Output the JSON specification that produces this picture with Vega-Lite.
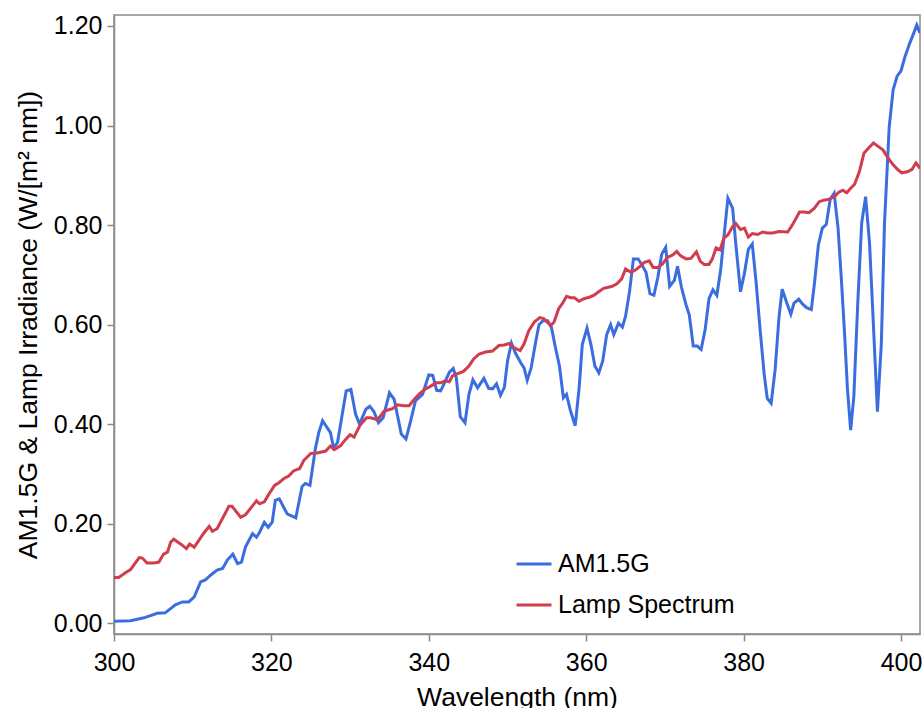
{
  "$schema": "https://vega.github.io/schema/vega-lite/v6.json",
  "autosize": {"type": "none"},
  "width": 806,
  "height": 619,
  "padding": {"left": 114, "top": 15, "right": 3, "bottom": 74},
  "background": "white",
  "config": {
    "font": "Liberation Sans",
    "view": {"stroke": "#8a8a8a", "strokeWidth": 1.5},
    "axis": {
      "grid": false,
      "domainColor": "#8a8a8a",
      "domainWidth": 1.5,
      "tickColor": "#8a8a8a",
      "tickWidth": 1.5,
      "tickSize": 7,
      "labelFont": "Liberation Sans",
      "labelFontSize": 25,
      "labelColor": "#000000",
      "titleFont": "Liberation Sans",
      "titleFontSize": 26.5,
      "titleFontWeight": "normal",
      "titleColor": "#000000"
    },
    "legend": {
      "labelFont": "Liberation Sans",
      "labelFontSize": 25,
      "labelColor": "#000000",
      "labelLimit": 400
    }
  },
  "data": {
    "values": [
      {"wl": 300.0, "series": "AM1.5G", "irr": 0.004},
      {"wl": 302.1, "series": "AM1.5G", "irr": 0.005},
      {"wl": 303.8, "series": "AM1.5G", "irr": 0.011},
      {"wl": 305.5, "series": "AM1.5G", "irr": 0.020},
      {"wl": 306.5, "series": "AM1.5G", "irr": 0.021},
      {"wl": 307.8, "series": "AM1.5G", "irr": 0.037},
      {"wl": 308.7, "series": "AM1.5G", "irr": 0.043},
      {"wl": 309.5, "series": "AM1.5G", "irr": 0.043},
      {"wl": 310.2, "series": "AM1.5G", "irr": 0.053},
      {"wl": 311.0, "series": "AM1.5G", "irr": 0.083},
      {"wl": 311.6, "series": "AM1.5G", "irr": 0.087},
      {"wl": 312.3, "series": "AM1.5G", "irr": 0.097},
      {"wl": 313.1, "series": "AM1.5G", "irr": 0.107},
      {"wl": 313.8, "series": "AM1.5G", "irr": 0.110},
      {"wl": 314.4, "series": "AM1.5G", "irr": 0.127},
      {"wl": 315.1, "series": "AM1.5G", "irr": 0.139},
      {"wl": 315.7, "series": "AM1.5G", "irr": 0.120},
      {"wl": 316.2, "series": "AM1.5G", "irr": 0.123},
      {"wl": 316.7, "series": "AM1.5G", "irr": 0.153},
      {"wl": 317.6, "series": "AM1.5G", "irr": 0.180},
      {"wl": 318.1, "series": "AM1.5G", "irr": 0.173},
      {"wl": 318.5, "series": "AM1.5G", "irr": 0.183},
      {"wl": 319.1, "series": "AM1.5G", "irr": 0.203},
      {"wl": 319.6, "series": "AM1.5G", "irr": 0.193},
      {"wl": 320.1, "series": "AM1.5G", "irr": 0.203},
      {"wl": 320.5, "series": "AM1.5G", "irr": 0.247},
      {"wl": 321.0, "series": "AM1.5G", "irr": 0.250},
      {"wl": 322.0, "series": "AM1.5G", "irr": 0.220},
      {"wl": 323.1, "series": "AM1.5G", "irr": 0.212},
      {"wl": 323.9, "series": "AM1.5G", "irr": 0.275},
      {"wl": 324.3, "series": "AM1.5G", "irr": 0.281},
      {"wl": 324.9, "series": "AM1.5G", "irr": 0.277},
      {"wl": 325.6, "series": "AM1.5G", "irr": 0.352},
      {"wl": 326.0, "series": "AM1.5G", "irr": 0.382},
      {"wl": 326.5, "series": "AM1.5G", "irr": 0.407},
      {"wl": 327.5, "series": "AM1.5G", "irr": 0.383},
      {"wl": 327.9, "series": "AM1.5G", "irr": 0.353},
      {"wl": 328.4, "series": "AM1.5G", "irr": 0.363},
      {"wl": 329.5, "series": "AM1.5G", "irr": 0.467},
      {"wl": 330.1, "series": "AM1.5G", "irr": 0.470},
      {"wl": 330.7, "series": "AM1.5G", "irr": 0.420},
      {"wl": 331.2, "series": "AM1.5G", "irr": 0.400},
      {"wl": 332.0, "series": "AM1.5G", "irr": 0.430},
      {"wl": 332.5, "series": "AM1.5G", "irr": 0.436},
      {"wl": 333.0, "series": "AM1.5G", "irr": 0.426},
      {"wl": 333.6, "series": "AM1.5G", "irr": 0.403},
      {"wl": 334.2, "series": "AM1.5G", "irr": 0.413},
      {"wl": 335.0, "series": "AM1.5G", "irr": 0.463},
      {"wl": 335.6, "series": "AM1.5G", "irr": 0.450},
      {"wl": 336.5, "series": "AM1.5G", "irr": 0.380},
      {"wl": 337.1, "series": "AM1.5G", "irr": 0.370},
      {"wl": 337.7, "series": "AM1.5G", "irr": 0.407},
      {"wl": 338.3, "series": "AM1.5G", "irr": 0.447},
      {"wl": 339.2, "series": "AM1.5G", "irr": 0.460},
      {"wl": 340.0, "series": "AM1.5G", "irr": 0.499},
      {"wl": 340.5, "series": "AM1.5G", "irr": 0.498},
      {"wl": 341.0, "series": "AM1.5G", "irr": 0.468},
      {"wl": 341.5, "series": "AM1.5G", "irr": 0.467},
      {"wl": 342.0, "series": "AM1.5G", "irr": 0.483},
      {"wl": 342.6, "series": "AM1.5G", "irr": 0.504},
      {"wl": 343.1, "series": "AM1.5G", "irr": 0.512},
      {"wl": 343.5, "series": "AM1.5G", "irr": 0.493},
      {"wl": 344.0, "series": "AM1.5G", "irr": 0.415},
      {"wl": 344.6, "series": "AM1.5G", "irr": 0.403},
      {"wl": 345.1, "series": "AM1.5G", "irr": 0.460},
      {"wl": 345.6, "series": "AM1.5G", "irr": 0.489},
      {"wl": 346.2, "series": "AM1.5G", "irr": 0.473},
      {"wl": 347.0, "series": "AM1.5G", "irr": 0.492},
      {"wl": 347.6, "series": "AM1.5G", "irr": 0.472},
      {"wl": 348.1, "series": "AM1.5G", "irr": 0.471},
      {"wl": 348.6, "series": "AM1.5G", "irr": 0.481},
      {"wl": 349.1, "series": "AM1.5G", "irr": 0.458},
      {"wl": 349.6, "series": "AM1.5G", "irr": 0.474},
      {"wl": 350.0, "series": "AM1.5G", "irr": 0.527},
      {"wl": 350.5, "series": "AM1.5G", "irr": 0.563},
      {"wl": 351.0, "series": "AM1.5G", "irr": 0.543},
      {"wl": 351.7, "series": "AM1.5G", "irr": 0.523},
      {"wl": 352.1, "series": "AM1.5G", "irr": 0.513},
      {"wl": 352.5, "series": "AM1.5G", "irr": 0.488},
      {"wl": 353.0, "series": "AM1.5G", "irr": 0.513},
      {"wl": 353.6, "series": "AM1.5G", "irr": 0.567},
      {"wl": 354.0, "series": "AM1.5G", "irr": 0.600},
      {"wl": 354.5, "series": "AM1.5G", "irr": 0.608},
      {"wl": 355.1, "series": "AM1.5G", "irr": 0.608},
      {"wl": 355.6, "series": "AM1.5G", "irr": 0.593},
      {"wl": 356.1, "series": "AM1.5G", "irr": 0.553},
      {"wl": 356.6, "series": "AM1.5G", "irr": 0.517},
      {"wl": 357.1, "series": "AM1.5G", "irr": 0.453},
      {"wl": 357.5, "series": "AM1.5G", "irr": 0.460},
      {"wl": 358.0, "series": "AM1.5G", "irr": 0.427},
      {"wl": 358.6, "series": "AM1.5G", "irr": 0.397},
      {"wl": 359.1, "series": "AM1.5G", "irr": 0.473},
      {"wl": 359.5, "series": "AM1.5G", "irr": 0.560},
      {"wl": 360.1, "series": "AM1.5G", "irr": 0.593},
      {"wl": 360.6, "series": "AM1.5G", "irr": 0.560},
      {"wl": 361.1, "series": "AM1.5G", "irr": 0.517},
      {"wl": 361.6, "series": "AM1.5G", "irr": 0.503},
      {"wl": 362.1, "series": "AM1.5G", "irr": 0.527},
      {"wl": 362.6, "series": "AM1.5G", "irr": 0.580},
      {"wl": 363.1, "series": "AM1.5G", "irr": 0.600},
      {"wl": 363.5, "series": "AM1.5G", "irr": 0.580},
      {"wl": 364.1, "series": "AM1.5G", "irr": 0.603},
      {"wl": 364.6, "series": "AM1.5G", "irr": 0.595},
      {"wl": 365.0, "series": "AM1.5G", "irr": 0.617},
      {"wl": 365.5, "series": "AM1.5G", "irr": 0.666},
      {"wl": 366.0, "series": "AM1.5G", "irr": 0.732},
      {"wl": 366.6, "series": "AM1.5G", "irr": 0.732},
      {"wl": 367.0, "series": "AM1.5G", "irr": 0.722},
      {"wl": 367.6, "series": "AM1.5G", "irr": 0.705},
      {"wl": 368.1, "series": "AM1.5G", "irr": 0.662},
      {"wl": 368.6, "series": "AM1.5G", "irr": 0.659},
      {"wl": 369.1, "series": "AM1.5G", "irr": 0.695},
      {"wl": 369.6, "series": "AM1.5G", "irr": 0.742},
      {"wl": 370.1, "series": "AM1.5G", "irr": 0.755},
      {"wl": 370.6, "series": "AM1.5G", "irr": 0.677},
      {"wl": 371.2, "series": "AM1.5G", "irr": 0.689},
      {"wl": 371.6, "series": "AM1.5G", "irr": 0.717},
      {"wl": 372.1, "series": "AM1.5G", "irr": 0.675},
      {"wl": 372.7, "series": "AM1.5G", "irr": 0.639},
      {"wl": 373.1, "series": "AM1.5G", "irr": 0.619},
      {"wl": 373.6, "series": "AM1.5G", "irr": 0.557},
      {"wl": 374.1, "series": "AM1.5G", "irr": 0.557},
      {"wl": 374.6, "series": "AM1.5G", "irr": 0.550},
      {"wl": 375.1, "series": "AM1.5G", "irr": 0.589},
      {"wl": 375.6, "series": "AM1.5G", "irr": 0.652},
      {"wl": 376.1, "series": "AM1.5G", "irr": 0.670},
      {"wl": 376.6, "series": "AM1.5G", "irr": 0.659},
      {"wl": 377.1, "series": "AM1.5G", "irr": 0.712},
      {"wl": 377.5, "series": "AM1.5G", "irr": 0.776},
      {"wl": 378.0, "series": "AM1.5G", "irr": 0.854},
      {"wl": 378.6, "series": "AM1.5G", "irr": 0.834},
      {"wl": 379.0, "series": "AM1.5G", "irr": 0.763},
      {"wl": 379.6, "series": "AM1.5G", "irr": 0.666},
      {"wl": 380.1, "series": "AM1.5G", "irr": 0.703},
      {"wl": 380.6, "series": "AM1.5G", "irr": 0.751},
      {"wl": 381.1, "series": "AM1.5G", "irr": 0.762},
      {"wl": 381.6, "series": "AM1.5G", "irr": 0.683},
      {"wl": 382.1, "series": "AM1.5G", "irr": 0.589},
      {"wl": 382.6, "series": "AM1.5G", "irr": 0.502},
      {"wl": 383.0, "series": "AM1.5G", "irr": 0.452},
      {"wl": 383.5, "series": "AM1.5G", "irr": 0.442},
      {"wl": 384.0, "series": "AM1.5G", "irr": 0.509},
      {"wl": 384.5, "series": "AM1.5G", "irr": 0.616},
      {"wl": 384.9, "series": "AM1.5G", "irr": 0.671},
      {"wl": 385.5, "series": "AM1.5G", "irr": 0.643},
      {"wl": 386.0, "series": "AM1.5G", "irr": 0.621},
      {"wl": 386.4, "series": "AM1.5G", "irr": 0.643},
      {"wl": 387.0, "series": "AM1.5G", "irr": 0.651},
      {"wl": 387.5, "series": "AM1.5G", "irr": 0.641},
      {"wl": 388.0, "series": "AM1.5G", "irr": 0.634},
      {"wl": 388.6, "series": "AM1.5G", "irr": 0.630},
      {"wl": 389.0, "series": "AM1.5G", "irr": 0.683},
      {"wl": 389.5, "series": "AM1.5G", "irr": 0.760},
      {"wl": 390.0, "series": "AM1.5G", "irr": 0.794},
      {"wl": 390.5, "series": "AM1.5G", "irr": 0.801},
      {"wl": 391.0, "series": "AM1.5G", "irr": 0.852},
      {"wl": 391.5, "series": "AM1.5G", "irr": 0.864},
      {"wl": 392.0, "series": "AM1.5G", "irr": 0.794},
      {"wl": 392.4, "series": "AM1.5G", "irr": 0.696},
      {"wl": 392.8, "series": "AM1.5G", "irr": 0.589},
      {"wl": 393.2, "series": "AM1.5G", "irr": 0.469},
      {"wl": 393.6, "series": "AM1.5G", "irr": 0.388},
      {"wl": 394.0, "series": "AM1.5G", "irr": 0.455},
      {"wl": 394.5, "series": "AM1.5G", "irr": 0.643},
      {"wl": 395.0, "series": "AM1.5G", "irr": 0.804},
      {"wl": 395.5, "series": "AM1.5G", "irr": 0.857},
      {"wl": 396.0, "series": "AM1.5G", "irr": 0.763},
      {"wl": 396.5, "series": "AM1.5G", "irr": 0.596},
      {"wl": 397.0, "series": "AM1.5G", "irr": 0.425},
      {"wl": 397.5, "series": "AM1.5G", "irr": 0.563},
      {"wl": 397.9, "series": "AM1.5G", "irr": 0.804},
      {"wl": 398.5, "series": "AM1.5G", "irr": 0.998},
      {"wl": 399.0, "series": "AM1.5G", "irr": 1.072},
      {"wl": 399.5, "series": "AM1.5G", "irr": 1.099},
      {"wl": 400.0, "series": "AM1.5G", "irr": 1.110},
      {"wl": 400.5, "series": "AM1.5G", "irr": 1.138},
      {"wl": 401.1, "series": "AM1.5G", "irr": 1.165},
      {"wl": 401.6, "series": "AM1.5G", "irr": 1.185},
      {"wl": 402.0, "series": "AM1.5G", "irr": 1.202},
      {"wl": 402.4, "series": "AM1.5G", "irr": 1.186},
      {"wl": 300.0, "series": "Lamp Spectrum", "irr": 0.092},
      {"wl": 300.6, "series": "Lamp Spectrum", "irr": 0.092},
      {"wl": 301.5, "series": "Lamp Spectrum", "irr": 0.102},
      {"wl": 302.1, "series": "Lamp Spectrum", "irr": 0.108},
      {"wl": 303.2, "series": "Lamp Spectrum", "irr": 0.132},
      {"wl": 303.6, "series": "Lamp Spectrum", "irr": 0.131},
      {"wl": 304.2, "series": "Lamp Spectrum", "irr": 0.121},
      {"wl": 305.1, "series": "Lamp Spectrum", "irr": 0.121},
      {"wl": 305.7, "series": "Lamp Spectrum", "irr": 0.123},
      {"wl": 306.3, "series": "Lamp Spectrum", "irr": 0.139},
      {"wl": 306.8, "series": "Lamp Spectrum", "irr": 0.143},
      {"wl": 307.2, "series": "Lamp Spectrum", "irr": 0.163},
      {"wl": 307.6, "series": "Lamp Spectrum", "irr": 0.169},
      {"wl": 308.5, "series": "Lamp Spectrum", "irr": 0.159},
      {"wl": 309.2, "series": "Lamp Spectrum", "irr": 0.150},
      {"wl": 309.6, "series": "Lamp Spectrum", "irr": 0.159},
      {"wl": 310.2, "series": "Lamp Spectrum", "irr": 0.153},
      {"wl": 310.8, "series": "Lamp Spectrum", "irr": 0.167},
      {"wl": 311.4, "series": "Lamp Spectrum", "irr": 0.181},
      {"wl": 312.1, "series": "Lamp Spectrum", "irr": 0.195},
      {"wl": 312.5, "series": "Lamp Spectrum", "irr": 0.185},
      {"wl": 313.1, "series": "Lamp Spectrum", "irr": 0.190},
      {"wl": 314.0, "series": "Lamp Spectrum", "irr": 0.217},
      {"wl": 314.6, "series": "Lamp Spectrum", "irr": 0.235},
      {"wl": 315.0, "series": "Lamp Spectrum", "irr": 0.235},
      {"wl": 316.1, "series": "Lamp Spectrum", "irr": 0.213},
      {"wl": 316.7, "series": "Lamp Spectrum", "irr": 0.218},
      {"wl": 317.6, "series": "Lamp Spectrum", "irr": 0.236},
      {"wl": 318.1, "series": "Lamp Spectrum", "irr": 0.246},
      {"wl": 318.5, "series": "Lamp Spectrum", "irr": 0.240},
      {"wl": 319.1, "series": "Lamp Spectrum", "irr": 0.244},
      {"wl": 319.7, "series": "Lamp Spectrum", "irr": 0.260},
      {"wl": 320.4, "series": "Lamp Spectrum", "irr": 0.277},
      {"wl": 321.0, "series": "Lamp Spectrum", "irr": 0.283},
      {"wl": 321.6, "series": "Lamp Spectrum", "irr": 0.291},
      {"wl": 322.2, "series": "Lamp Spectrum", "irr": 0.296},
      {"wl": 322.8, "series": "Lamp Spectrum", "irr": 0.306},
      {"wl": 323.6, "series": "Lamp Spectrum", "irr": 0.311},
      {"wl": 324.1, "series": "Lamp Spectrum", "irr": 0.327},
      {"wl": 325.0, "series": "Lamp Spectrum", "irr": 0.341},
      {"wl": 325.8, "series": "Lamp Spectrum", "irr": 0.342},
      {"wl": 326.9, "series": "Lamp Spectrum", "irr": 0.346},
      {"wl": 327.5, "series": "Lamp Spectrum", "irr": 0.356},
      {"wl": 328.0, "series": "Lamp Spectrum", "irr": 0.349},
      {"wl": 328.8, "series": "Lamp Spectrum", "irr": 0.357},
      {"wl": 329.4, "series": "Lamp Spectrum", "irr": 0.369},
      {"wl": 330.0, "series": "Lamp Spectrum", "irr": 0.379},
      {"wl": 330.5, "series": "Lamp Spectrum", "irr": 0.374},
      {"wl": 331.3, "series": "Lamp Spectrum", "irr": 0.399},
      {"wl": 332.1, "series": "Lamp Spectrum", "irr": 0.413},
      {"wl": 332.6, "series": "Lamp Spectrum", "irr": 0.413},
      {"wl": 333.5, "series": "Lamp Spectrum", "irr": 0.409},
      {"wl": 334.3, "series": "Lamp Spectrum", "irr": 0.426},
      {"wl": 334.9, "series": "Lamp Spectrum", "irr": 0.429},
      {"wl": 335.4, "series": "Lamp Spectrum", "irr": 0.431},
      {"wl": 336.0, "series": "Lamp Spectrum", "irr": 0.439},
      {"wl": 336.8, "series": "Lamp Spectrum", "irr": 0.437},
      {"wl": 337.5, "series": "Lamp Spectrum", "irr": 0.437},
      {"wl": 338.1, "series": "Lamp Spectrum", "irr": 0.449},
      {"wl": 338.8, "series": "Lamp Spectrum", "irr": 0.461},
      {"wl": 339.6, "series": "Lamp Spectrum", "irr": 0.471},
      {"wl": 340.2, "series": "Lamp Spectrum", "irr": 0.476},
      {"wl": 340.9, "series": "Lamp Spectrum", "irr": 0.483},
      {"wl": 341.5, "series": "Lamp Spectrum", "irr": 0.483},
      {"wl": 342.1, "series": "Lamp Spectrum", "irr": 0.487},
      {"wl": 342.6, "series": "Lamp Spectrum", "irr": 0.485},
      {"wl": 343.0, "series": "Lamp Spectrum", "irr": 0.497},
      {"wl": 343.6, "series": "Lamp Spectrum", "irr": 0.501},
      {"wl": 344.4, "series": "Lamp Spectrum", "irr": 0.506},
      {"wl": 345.1, "series": "Lamp Spectrum", "irr": 0.517},
      {"wl": 345.7, "series": "Lamp Spectrum", "irr": 0.531},
      {"wl": 346.4, "series": "Lamp Spectrum", "irr": 0.541},
      {"wl": 347.2, "series": "Lamp Spectrum", "irr": 0.545},
      {"wl": 348.1, "series": "Lamp Spectrum", "irr": 0.547},
      {"wl": 348.9, "series": "Lamp Spectrum", "irr": 0.558},
      {"wl": 349.6, "series": "Lamp Spectrum", "irr": 0.559},
      {"wl": 350.2, "series": "Lamp Spectrum", "irr": 0.562},
      {"wl": 350.8, "series": "Lamp Spectrum", "irr": 0.554},
      {"wl": 351.6, "series": "Lamp Spectrum", "irr": 0.548},
      {"wl": 352.1, "series": "Lamp Spectrum", "irr": 0.561},
      {"wl": 352.7, "series": "Lamp Spectrum", "irr": 0.588},
      {"wl": 353.4, "series": "Lamp Spectrum", "irr": 0.605},
      {"wl": 354.1, "series": "Lamp Spectrum", "irr": 0.614},
      {"wl": 354.6, "series": "Lamp Spectrum", "irr": 0.612},
      {"wl": 355.5, "series": "Lamp Spectrum", "irr": 0.598},
      {"wl": 355.9, "series": "Lamp Spectrum", "irr": 0.605},
      {"wl": 356.5, "series": "Lamp Spectrum", "irr": 0.632},
      {"wl": 357.0, "series": "Lamp Spectrum", "irr": 0.643},
      {"wl": 357.5, "series": "Lamp Spectrum", "irr": 0.657},
      {"wl": 358.0, "series": "Lamp Spectrum", "irr": 0.654},
      {"wl": 358.5, "series": "Lamp Spectrum", "irr": 0.654},
      {"wl": 359.1, "series": "Lamp Spectrum", "irr": 0.647},
      {"wl": 359.7, "series": "Lamp Spectrum", "irr": 0.652},
      {"wl": 360.4, "series": "Lamp Spectrum", "irr": 0.655},
      {"wl": 361.0, "series": "Lamp Spectrum", "irr": 0.659},
      {"wl": 361.5, "series": "Lamp Spectrum", "irr": 0.665},
      {"wl": 362.2, "series": "Lamp Spectrum", "irr": 0.673},
      {"wl": 362.8, "series": "Lamp Spectrum", "irr": 0.675},
      {"wl": 363.3, "series": "Lamp Spectrum", "irr": 0.677},
      {"wl": 363.9, "series": "Lamp Spectrum", "irr": 0.682},
      {"wl": 364.5, "series": "Lamp Spectrum", "irr": 0.692},
      {"wl": 365.0, "series": "Lamp Spectrum", "irr": 0.712},
      {"wl": 365.7, "series": "Lamp Spectrum", "irr": 0.705},
      {"wl": 366.3, "series": "Lamp Spectrum", "irr": 0.710},
      {"wl": 366.9, "series": "Lamp Spectrum", "irr": 0.718},
      {"wl": 367.4, "series": "Lamp Spectrum", "irr": 0.725},
      {"wl": 368.0, "series": "Lamp Spectrum", "irr": 0.728},
      {"wl": 368.5, "series": "Lamp Spectrum", "irr": 0.715},
      {"wl": 369.1, "series": "Lamp Spectrum", "irr": 0.715},
      {"wl": 369.7, "series": "Lamp Spectrum", "irr": 0.722},
      {"wl": 370.3, "series": "Lamp Spectrum", "irr": 0.735},
      {"wl": 371.0, "series": "Lamp Spectrum", "irr": 0.740},
      {"wl": 371.5, "series": "Lamp Spectrum", "irr": 0.747},
      {"wl": 372.0, "series": "Lamp Spectrum", "irr": 0.738},
      {"wl": 372.7, "series": "Lamp Spectrum", "irr": 0.732},
      {"wl": 373.3, "series": "Lamp Spectrum", "irr": 0.733},
      {"wl": 374.0, "series": "Lamp Spectrum", "irr": 0.746},
      {"wl": 374.5, "series": "Lamp Spectrum", "irr": 0.727},
      {"wl": 375.0, "series": "Lamp Spectrum", "irr": 0.721},
      {"wl": 375.6, "series": "Lamp Spectrum", "irr": 0.721},
      {"wl": 376.0, "series": "Lamp Spectrum", "irr": 0.731},
      {"wl": 376.5, "series": "Lamp Spectrum", "irr": 0.754},
      {"wl": 377.0, "series": "Lamp Spectrum", "irr": 0.750},
      {"wl": 377.5, "series": "Lamp Spectrum", "irr": 0.774},
      {"wl": 378.0, "series": "Lamp Spectrum", "irr": 0.780},
      {"wl": 378.6, "series": "Lamp Spectrum", "irr": 0.797},
      {"wl": 379.0, "series": "Lamp Spectrum", "irr": 0.803},
      {"wl": 379.6, "series": "Lamp Spectrum", "irr": 0.791},
      {"wl": 380.1, "series": "Lamp Spectrum", "irr": 0.794},
      {"wl": 380.6, "series": "Lamp Spectrum", "irr": 0.776},
      {"wl": 381.1, "series": "Lamp Spectrum", "irr": 0.783},
      {"wl": 381.8, "series": "Lamp Spectrum", "irr": 0.781},
      {"wl": 382.4, "series": "Lamp Spectrum", "irr": 0.786},
      {"wl": 383.0, "series": "Lamp Spectrum", "irr": 0.784},
      {"wl": 383.7, "series": "Lamp Spectrum", "irr": 0.784},
      {"wl": 384.5, "series": "Lamp Spectrum", "irr": 0.787},
      {"wl": 385.6, "series": "Lamp Spectrum", "irr": 0.786},
      {"wl": 386.3, "series": "Lamp Spectrum", "irr": 0.803},
      {"wl": 387.1, "series": "Lamp Spectrum", "irr": 0.826},
      {"wl": 387.7, "series": "Lamp Spectrum", "irr": 0.826},
      {"wl": 388.3, "series": "Lamp Spectrum", "irr": 0.825},
      {"wl": 389.0, "series": "Lamp Spectrum", "irr": 0.834},
      {"wl": 389.6, "series": "Lamp Spectrum", "irr": 0.847},
      {"wl": 390.2, "series": "Lamp Spectrum", "irr": 0.850},
      {"wl": 390.9, "series": "Lamp Spectrum", "irr": 0.852},
      {"wl": 391.5, "series": "Lamp Spectrum", "irr": 0.857},
      {"wl": 392.1, "series": "Lamp Spectrum", "irr": 0.866},
      {"wl": 392.6, "series": "Lamp Spectrum", "irr": 0.870},
      {"wl": 393.1, "series": "Lamp Spectrum", "irr": 0.865},
      {"wl": 393.6, "series": "Lamp Spectrum", "irr": 0.874},
      {"wl": 394.1, "series": "Lamp Spectrum", "irr": 0.882},
      {"wl": 394.7, "series": "Lamp Spectrum", "irr": 0.907},
      {"wl": 395.3, "series": "Lamp Spectrum", "irr": 0.945},
      {"wl": 396.0, "series": "Lamp Spectrum", "irr": 0.957},
      {"wl": 396.5, "series": "Lamp Spectrum", "irr": 0.965},
      {"wl": 397.0, "series": "Lamp Spectrum", "irr": 0.959},
      {"wl": 397.7, "series": "Lamp Spectrum", "irr": 0.951},
      {"wl": 398.3, "series": "Lamp Spectrum", "irr": 0.936},
      {"wl": 398.9, "series": "Lamp Spectrum", "irr": 0.923},
      {"wl": 399.6, "series": "Lamp Spectrum", "irr": 0.911},
      {"wl": 400.1, "series": "Lamp Spectrum", "irr": 0.905},
      {"wl": 400.8, "series": "Lamp Spectrum", "irr": 0.907},
      {"wl": 401.4, "series": "Lamp Spectrum", "irr": 0.912},
      {"wl": 401.9, "series": "Lamp Spectrum", "irr": 0.925},
      {"wl": 402.4, "series": "Lamp Spectrum", "irr": 0.914}
    ]
  },
  "mark": {"type": "line", "strokeWidth": 3, "clip": true},
  "encoding": {
    "x": {
      "field": "wl",
      "type": "quantitative",
      "title": "Wavelength (nm)",
      "scale": {"domain": [300, 402.41], "nice": false, "zero": false},
      "axis": {"values": [300, 320, 340, 360, 380, 400], "labelPadding": 9, "titlePadding": 9, "labelFlush": false}
    },
    "y": {
      "field": "irr",
      "type": "quantitative",
      "title": "AM1.5G & Lamp Irradiance (W/[m² nm])",
      "scale": {"domain": [-0.0215, 1.222], "nice": false, "zero": false},
      "axis": {"values": [0, 0.2, 0.4, 0.6, 0.8, 1.0, 1.2], "format": ".2f", "labelPadding": 5, "titlePadding": 11, "labelFlush": false}
    },
    "color": {
      "field": "series",
      "type": "nominal",
      "scale": {"domain": ["AM1.5G", "Lamp Spectrum"], "range": ["#3a6ee0", "#d13c4f"]},
      "legend": {
        "title": null,
        "orient": "none",
        "legendX": 401,
        "legendY": 530,
        "symbolType": "stroke",
        "symbolSize": 1225,
        "symbolStrokeWidth": 3,
        "rowPadding": 9,
        "labelOffset": 5,
        "padding": 0
      }
    }
  }
}
